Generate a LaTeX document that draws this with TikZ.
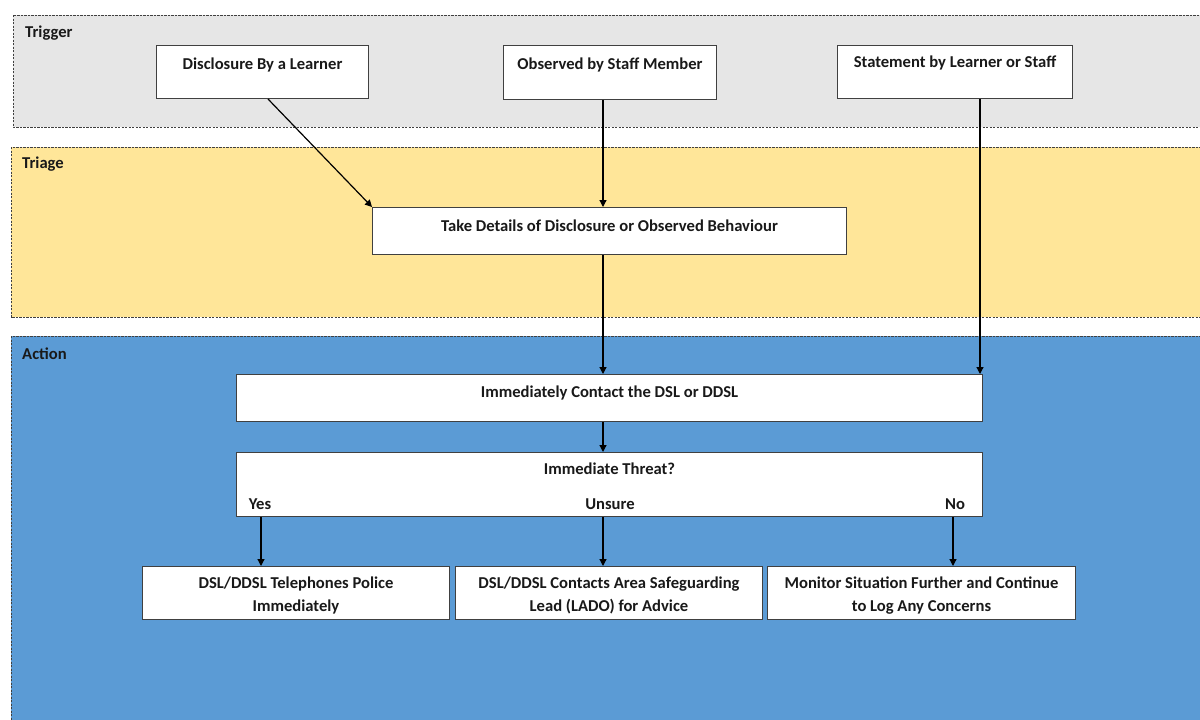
\documentclass[tikz,border=0pt]{standalone}
\usepackage{fontspec}
\setmainfont{Carlito}
\usetikzlibrary{arrows.meta}
\definecolor{trigfill}{HTML}{E6E6E6}
\definecolor{triafill}{HTML}{FFE699}
\definecolor{actfill}{HTML}{5B9BD5}
\definecolor{boxline}{HTML}{404040}
\tikzset{
  lane/.style={draw=black!75, dash pattern=on 2.2pt off 1.3pt, line width=0.7pt},
  box/.style={draw=boxline, fill=white, line width=1pt, anchor=north west, inner sep=0pt},
  txt/.style={font=\fontsize{16.6}{23}\selectfont\bfseries, inner sep=0pt, text=black!90, align=center},
  lanetxt/.style={font=\fontsize{16.6}{19}\selectfont\bfseries, inner sep=0pt, anchor=west, text=black!90},
  arr/.style={draw=black, line width=1.2pt, -{Triangle[width=7pt,length=7pt]}}
}
\begin{document}
\begin{tikzpicture}[x=1pt,y=-1pt]
\useasboundingbox (0,0) rectangle (1200,720);
% lanes
\fill[white] (0,0) rectangle (1200,720);
\draw[lane, fill=trigfill] (13,15) rectangle (1215,127);
\draw[lane, fill=triafill] (11,147) rectangle (1215,317);
\draw[lane, fill=actfill] (11,336) rectangle (1215,730);
\node[lanetxt] (ltrig) at (25,33) {Trigger};
\node[lanetxt] (ltria) at (22,164.5) {Triage};
\node[lanetxt] (lact) at (22,354) {Action};
% trigger boxes
\node[box, minimum width=212pt, minimum height=53pt] (disc) at (156,45) {};
\node[txt] (disct) at ([yshift=-19.5pt]disc.north) {Disclosure By a Learner};
\node[box, minimum width=213pt, minimum height=54pt] (obs) at (503,45) {};
\node[txt] (obst) at ([yshift=-20pt]obs.north) {Observed by Staff Member};
\node[box, minimum width=235pt, minimum height=53pt] (stat) at (837,45) {};
\node[txt] (statt) at ([yshift=-18pt]stat.north) {Statement by Learner or Staff};
% triage
\node[box, minimum width=474pt, minimum height=47pt] (take) at (372,207) {};
\node[txt] (taket) at ([yshift=-19pt]take.north) {Take Details of Disclosure or Observed Behaviour};
% action
\node[box, minimum width=746pt, minimum height=47pt] (cont) at (236,374) {};
\node[txt] (contt) at ([yshift=-18.5pt]cont.north) {Immediately Contact the DSL or DDSL};
\node[box, minimum width=746pt, minimum height=64pt] (thr) at (236,452) {};
\node[txt] (thrt) at ([yshift=-17pt]thr.north) {Immediate Threat?};
\node[txt] (yes) at (260,504.5) {Yes};
\node[txt] (uns) at (610,504.5) {Unsure};
\node[txt] (no) at (955,504.5) {No};
\node[box, minimum width=307pt, minimum height=53pt] (pol) at (142,566) {};
\node[txt] (polt) at ([yshift=-2.5pt]pol.center) {DSL/DDSL Telephones Police\\Immediately};
\node[box, minimum width=307pt, minimum height=53pt] (lado) at (455,566) {};
\node[txt] (ladot) at ([yshift=-2.5pt]lado.center) {DSL/DDSL Contacts Area Safeguarding\\Lead (LADO) for Advice};
\node[box, minimum width=308pt, minimum height=53pt] (mon) at (767,566) {};
\node[txt] (mont) at ([yshift=-2.5pt]mon.center) {Monitor Situation Further and Continue\\to Log Any Concerns};
% arrows
\coordinate (mid) at (603,0);
\draw[arr] (disc.south west) ++(112,0) coordinate (d1) -- (take.north west);
\draw[arr] (mid |- obs.south) -- (mid |- take.north);
\draw[arr] ([xshift=-3pt]cont.north east |- stat.south) -- ([xshift=-3pt]cont.north east);
\draw[arr] (mid |- take.south) -- (mid |- cont.north);
\draw[arr] (mid |- cont.south) -- (mid |- thr.north);
\draw[arr] (thr.south west) ++(25,0) coordinate (y1) -- (y1 |- pol.north);
\draw[arr] (mid |- thr.south) -- (mid |- lado.north);
\draw[arr] (thr.south east) ++(-30,0) coordinate (n1) -- (n1 |- mon.north);
\end{tikzpicture}
\end{document}
